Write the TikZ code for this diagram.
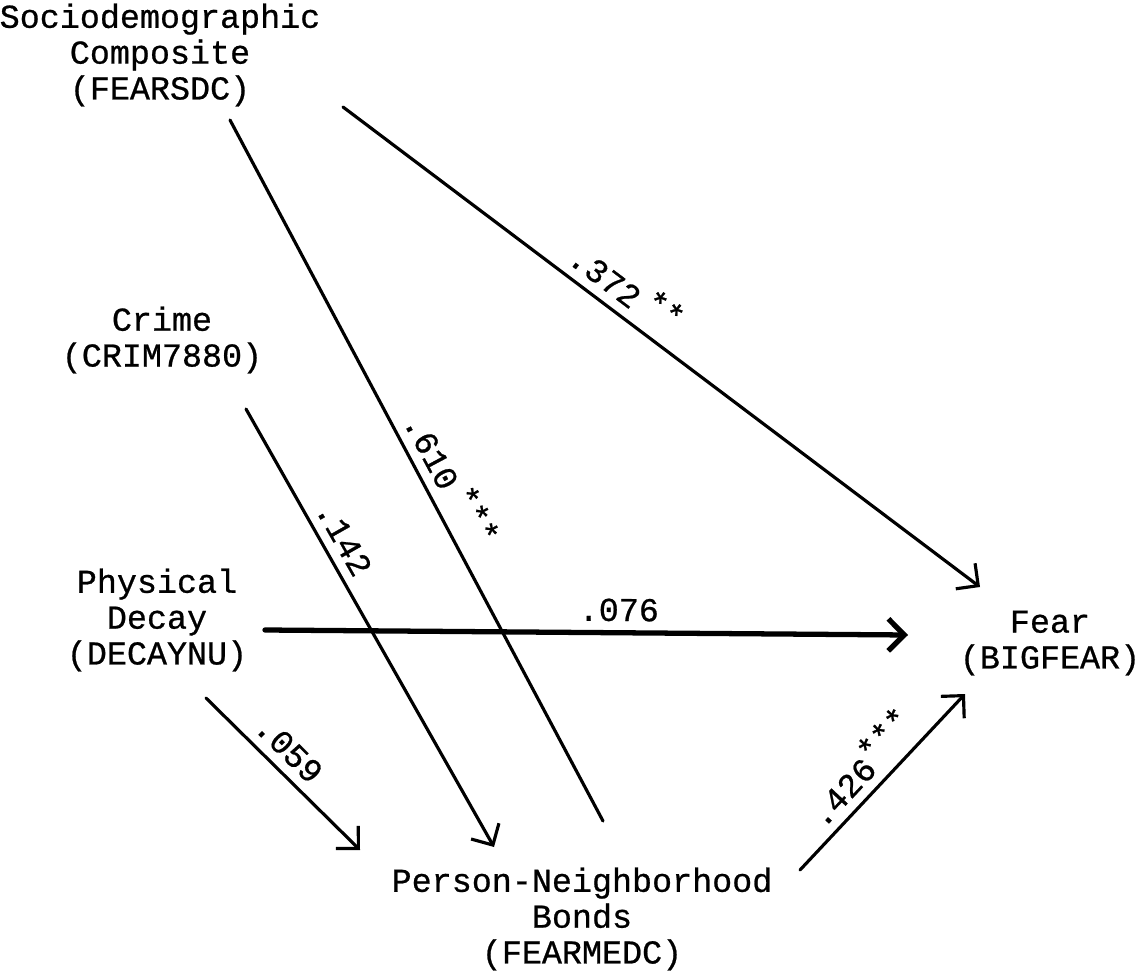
\documentclass[tikz,border=0pt]{standalone}
\usepackage{fontspec}
\setmainfont{Liberation Mono}[AutoFakeBold=0.7]
\usepackage{tikz}
\usetikzlibrary{arrows.meta}

\newcommand{\sig}[1]{\hspace{0.2em}\raisebox{0.3em}{#1}}

\begin{document}
\begin{tikzpicture}[
    var/.style={align=center, inner sep=0pt, font=\fontsize{9.5}{10.2}\selectfont\bfseries},
    link/.style={line width=0.9pt, line cap=round},
    arr/.style={link, -{Straight Barb[length=1.6mm,width=3.2mm]}},
    coef/.style={sloped, above, inner sep=2.5pt, font=\fontsize{9.5}{10.2}\selectfont\bfseries}
  ]
    \useasboundingbox (0,0) rectangle (11.43,-9.76);
    % variables
    \node[var] (sdc) at (1.60,-0.55) {Sociodemographic\\Composite\\(FEARSDC)};
    \node[var] (crime) at (1.62,-3.40) {Crime\\(CRIM7880)};
    \node[var] (decay) at (1.57,-6.20) {Physical\\Decay\\(DECAYNU)};
    \node[var] (fear) at (10.50,-6.43) {Fear\\(BIGFEAR)};
    \node[var] (bonds) at (5.82,-9.19) {Person-Neighborhood\\Bonds\\(FEARMEDC)};
    % line ends
    \coordinate (sdc-fear) at (3.43,-1.07);
    \coordinate (fear-sdc) at (9.80,-5.87);
    \coordinate (sdc-bonds) at (2.30,-1.20);
    \coordinate (bonds-sdc) at (6.03,-8.21);
    \coordinate (crime-bonds) at (2.46,-4.09);
    \coordinate (bonds-crime) at (4.94,-8.47);
    \coordinate (decay-fear) at (2.65,-6.30);
    \coordinate (fear-decay) at (9.08,-6.35);
    \coordinate (decay-bonds) at (2.06,-6.98);
    \coordinate (bonds-decay) at (3.60,-8.50);
    \coordinate (bonds-fear) at (8.00,-8.70);
    \coordinate (fear-bonds) at (9.65,-6.94);
    % paths
    \draw[arr] (sdc-fear) -- node[coef, pos=0.42] {.372\sig{**}} (fear-sdc);
    \draw[link] (sdc-bonds) -- node[coef, pos=0.53] {.610\sig{***}} (bonds-sdc);
    \draw[arr] (crime-bonds) -- node[coef, pos=0.32] {.142} (bonds-crime);
    \draw[arr, line width=1.5pt] (decay-fear) -- node[coef, pos=0.55] {.076} (fear-decay);
    \draw[arr] (decay-bonds) -- node[coef, pos=0.44] {.059} (bonds-decay);
    \draw[arr] (bonds-fear) -- node[coef, pos=0.48] {.426\raisebox{0.3em}{***}} (fear-bonds);
\end{tikzpicture}
\end{document}
